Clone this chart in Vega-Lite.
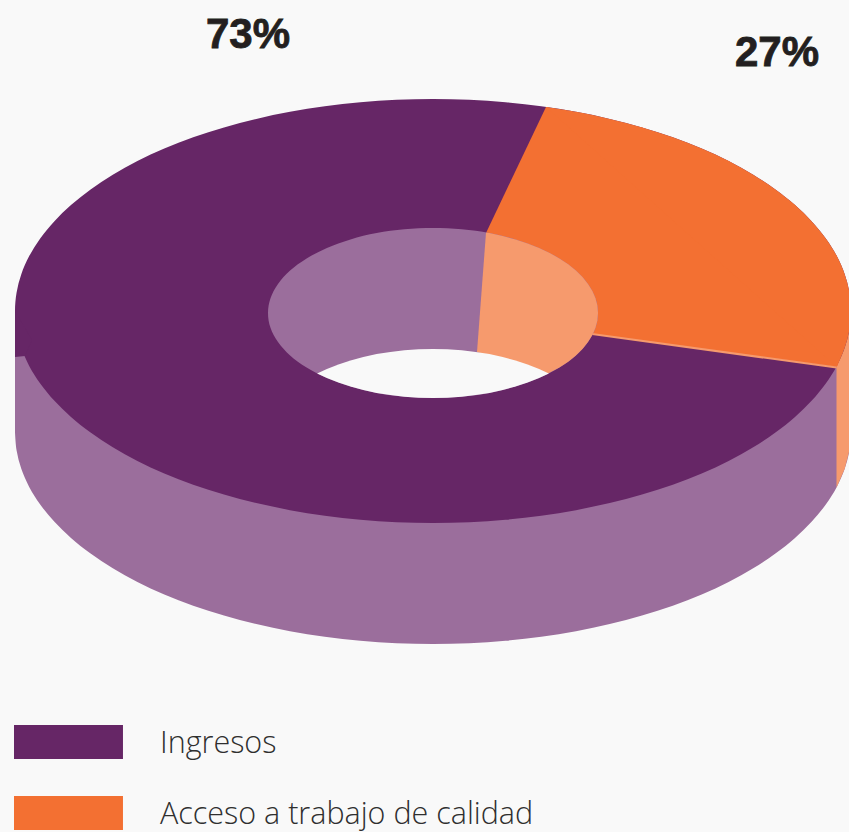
{"$schema":"https://vega.github.io/schema/vega-lite/v6.json","width":849,"height":832,"padding":0,"autosize":{"type":"fit","contains":"padding"},"background":"#f9f9f9","config":{"view":{"stroke":null}},
"datasets":{"parts":[{"s":1,"part":"Ingresos (lado)"},{"s":10,"part":"Ingresos (lado)"},{"s":2,"part":"Acceso (lado)"},{"s":3,"part":"Ingresos"},{"s":4,"part":"Ingresos"},{"s":5,"part":"Acceso a trabajo de calidad"},{"s":11,"part":"Acceso a trabajo de calidad"},{"s":6,"part":"Acceso (lado)"},{"s":7,"part":"Ingresos (lado)"},{"s":8,"part":"Acceso (lado)"},{"s":9,"part":"Fondo"}],
"labels":[{"label":"73%","x":248,"y":34.5},{"label":"27%","x":777,"y":52.5}],
"outline":[
{"s":10,"x":15,"y":311},{"s":10,"x":851,"y":311},{"s":10,"x":851,"y":432.5},{"s":10,"x":15,"y":432.5},
{"s":1,"x":851,"y":432},{"s":1,"x":849.4,"y":450.5},{"s":1,"x":844.7,"y":468.8},{"s":1,"x":836.8,"y":486.9},{"s":1,"x":825.8,"y":504.5},{"s":1,"x":811.8,"y":521.6},{"s":1,"x":795,"y":538},{"s":1,"x":775.4,"y":553.6},{"s":1,"x":753.2,"y":568.3},{"s":1,"x":728.6,"y":581.9},{"s":1,"x":701.7,"y":594.4},{"s":1,"x":672.8,"y":605.7},{"s":1,"x":642,"y":615.6},{"s":1,"x":609.7,"y":624.1},{"s":1,"x":576,"y":631.2},{"s":1,"x":541.2,"y":636.8},{"s":1,"x":505.6,"y":640.8},{"s":1,"x":469.4,"y":643.2},{"s":1,"x":433,"y":644},{"s":1,"x":396.6,"y":643.2},{"s":1,"x":360.4,"y":640.8},{"s":1,"x":324.8,"y":636.8},{"s":1,"x":290,"y":631.2},{"s":1,"x":256.3,"y":624.1},{"s":1,"x":224,"y":615.6},{"s":1,"x":193.2,"y":605.7},{"s":1,"x":164.3,"y":594.4},{"s":1,"x":137.4,"y":581.9},{"s":1,"x":112.8,"y":568.3},{"s":1,"x":90.6,"y":553.6},{"s":1,"x":71,"y":538},{"s":1,"x":54.2,"y":521.6},{"s":1,"x":40.2,"y":504.5},{"s":1,"x":29.2,"y":486.9},{"s":1,"x":21.3,"y":468.8},{"s":1,"x":16.6,"y":450.5},{"s":1,"x":15,"y":432},
{"s":2,"x":836.5,"y":300},{"s":2,"x":851,"y":300},{"s":2,"x":851,"y":432},{"s":2,"x":849.4,"y":450.5},{"s":2,"x":844.7,"y":468.8},{"s":2,"x":836.8,"y":486.9},{"s":2,"x":836.5,"y":488},
{"s":3,"x":433,"y":99},{"s":3,"x":469.4,"y":99.8},{"s":3,"x":505.6,"y":102.2},{"s":3,"x":541.2,"y":106.2},{"s":3,"x":576,"y":111.8},{"s":3,"x":609.7,"y":118.9},{"s":3,"x":642,"y":127.4},{"s":3,"x":672.8,"y":137.3},{"s":3,"x":701.7,"y":148.6},{"s":3,"x":728.6,"y":161.1},{"s":3,"x":753.2,"y":174.7},{"s":3,"x":775.4,"y":189.4},{"s":3,"x":795,"y":205},{"s":3,"x":811.8,"y":221.4},{"s":3,"x":825.8,"y":238.5},{"s":3,"x":836.8,"y":256.1},{"s":3,"x":844.7,"y":274.2},{"s":3,"x":849.4,"y":292.5},{"s":3,"x":851,"y":311},{"s":3,"x":849.4,"y":329.5},{"s":3,"x":844.7,"y":347.8},{"s":3,"x":836.8,"y":365.9},{"s":3,"x":825.8,"y":383.5},{"s":3,"x":811.8,"y":400.6},{"s":3,"x":795,"y":417},{"s":3,"x":775.4,"y":432.6},{"s":3,"x":753.2,"y":447.3},{"s":3,"x":728.6,"y":460.9},{"s":3,"x":701.7,"y":473.4},{"s":3,"x":672.8,"y":484.7},{"s":3,"x":642,"y":494.6},{"s":3,"x":609.7,"y":503.1},{"s":3,"x":576,"y":510.2},{"s":3,"x":541.2,"y":515.8},{"s":3,"x":505.6,"y":519.8},{"s":3,"x":469.4,"y":522.2},{"s":3,"x":433,"y":523},{"s":3,"x":396.6,"y":522.2},{"s":3,"x":360.4,"y":519.8},{"s":3,"x":324.8,"y":515.8},{"s":3,"x":290,"y":510.2},{"s":3,"x":256.3,"y":503.1},{"s":3,"x":224,"y":494.6},{"s":3,"x":193.2,"y":484.7},{"s":3,"x":164.3,"y":473.4},{"s":3,"x":137.4,"y":460.9},{"s":3,"x":112.8,"y":447.3},{"s":3,"x":90.6,"y":432.6},{"s":3,"x":71,"y":417},{"s":3,"x":54.2,"y":400.6},{"s":3,"x":40.2,"y":383.5},{"s":3,"x":29.2,"y":365.9},{"s":3,"x":21.3,"y":347.8},{"s":3,"x":16.6,"y":329.5},{"s":3,"x":15,"y":311},{"s":3,"x":16.6,"y":292.5},{"s":3,"x":21.3,"y":274.2},{"s":3,"x":29.2,"y":256.1},{"s":3,"x":40.2,"y":238.5},{"s":3,"x":54.2,"y":221.4},{"s":3,"x":71,"y":205},{"s":3,"x":90.6,"y":189.4},{"s":3,"x":112.8,"y":174.7},{"s":3,"x":137.4,"y":161.1},{"s":3,"x":164.3,"y":148.6},{"s":3,"x":193.2,"y":137.3},{"s":3,"x":224,"y":127.4},{"s":3,"x":256.3,"y":118.9},{"s":3,"x":290,"y":111.8},{"s":3,"x":324.8,"y":106.2},{"s":3,"x":360.4,"y":102.2},{"s":3,"x":396.6,"y":99.8},
{"s":4,"x":15,"y":311},{"s":4,"x":15,"y":357},{"s":4,"x":25,"y":356},{"s":4,"x":32,"y":340},
{"s":5,"x":546,"y":107},{"s":5,"x":576,"y":111.8},{"s":5,"x":609.7,"y":118.9},{"s":5,"x":642,"y":127.4},{"s":5,"x":672.8,"y":137.3},{"s":5,"x":701.7,"y":148.6},{"s":5,"x":728.6,"y":161.1},{"s":5,"x":753.2,"y":174.7},{"s":5,"x":775.4,"y":189.4},{"s":5,"x":795,"y":205},{"s":5,"x":811.8,"y":221.4},{"s":5,"x":825.8,"y":238.5},{"s":5,"x":836.8,"y":256.1},{"s":5,"x":844.7,"y":274.2},{"s":5,"x":849.4,"y":292.5},{"s":5,"x":851,"y":311},{"s":5,"x":849.4,"y":329.5},{"s":5,"x":844.7,"y":347.8},{"s":5,"x":836.8,"y":367},
{"s":11,"x":486,"y":233},{"s":11,"x":546,"y":107},{"s":11,"x":642,"y":127.4},{"s":11,"x":728.6,"y":161.1},{"s":11,"x":795,"y":205},{"s":11,"x":836.8,"y":256.1},{"s":11,"x":849.4,"y":329.5},{"s":11,"x":836.8,"y":367},{"s":11,"x":592,"y":334},
{"s":6,"x":592,"y":333},{"s":6,"x":836.8,"y":366.6},{"s":6,"x":836.5,"y":368.6},{"s":6,"x":592,"y":335},
{"s":7,"x":433,"y":228},{"s":7,"x":461.7,"y":229.3},{"s":7,"x":489.4,"y":233.1},{"s":7,"x":515.5,"y":239.4},{"s":7,"x":539.1,"y":247.9},{"s":7,"x":559.4,"y":258.4},{"s":7,"x":575.9,"y":270.5},{"s":7,"x":588,"y":283.9},{"s":7,"x":595.5,"y":298.2},{"s":7,"x":598,"y":313},{"s":7,"x":595.5,"y":327.8},{"s":7,"x":588,"y":342.1},{"s":7,"x":575.9,"y":355.5},{"s":7,"x":559.4,"y":367.6},{"s":7,"x":539.1,"y":378.1},{"s":7,"x":515.5,"y":386.6},{"s":7,"x":489.4,"y":392.9},{"s":7,"x":461.7,"y":396.7},{"s":7,"x":433,"y":398},{"s":7,"x":404.3,"y":396.7},{"s":7,"x":376.6,"y":392.9},{"s":7,"x":350.5,"y":386.6},{"s":7,"x":326.9,"y":378.1},{"s":7,"x":306.6,"y":367.6},{"s":7,"x":290.1,"y":355.5},{"s":7,"x":278,"y":342.1},{"s":7,"x":270.5,"y":327.8},{"s":7,"x":268,"y":313},{"s":7,"x":270.5,"y":298.2},{"s":7,"x":278,"y":283.9},{"s":7,"x":290.1,"y":270.5},{"s":7,"x":306.6,"y":258.4},{"s":7,"x":326.9,"y":247.9},{"s":7,"x":350.5,"y":239.4},{"s":7,"x":376.6,"y":233.1},{"s":7,"x":404.3,"y":229.3},
{"s":8,"x":486,"y":232.7},{"s":8,"x":489.4,"y":233.1},{"s":8,"x":502.7,"y":236},{"s":8,"x":515.5,"y":239.4},{"s":8,"x":527.6,"y":243.4},{"s":8,"x":539.1,"y":247.9},{"s":8,"x":549.7,"y":252.9},{"s":8,"x":559.4,"y":258.4},{"s":8,"x":568.2,"y":264.2},{"s":8,"x":575.9,"y":270.5},{"s":8,"x":582.5,"y":277.1},{"s":8,"x":588,"y":283.9},{"s":8,"x":592.4,"y":291},{"s":8,"x":595.5,"y":298.2},{"s":8,"x":597.4,"y":305.6},{"s":8,"x":598,"y":313},{"s":8,"x":597.4,"y":320.4},{"s":8,"x":595.5,"y":327.8},{"s":8,"x":592.4,"y":335},{"s":8,"x":588,"y":342.1},{"s":8,"x":582.5,"y":348.9},{"s":8,"x":575.9,"y":355.5},{"s":8,"x":568.2,"y":361.8},{"s":8,"x":559.4,"y":367.6},{"s":8,"x":547,"y":374},{"s":8,"x":477,"y":352},
{"s":9,"x":317.1,"y":373.5},{"s":9,"x":326.9,"y":368.9},{"s":9,"x":338.4,"y":364.4},{"s":9,"x":350.5,"y":360.4},{"s":9,"x":363.3,"y":357},{"s":9,"x":376.6,"y":354.1},{"s":9,"x":390.3,"y":351.9},{"s":9,"x":404.3,"y":350.3},{"s":9,"x":418.6,"y":349.3},{"s":9,"x":433,"y":349},{"s":9,"x":447.4,"y":349.3},{"s":9,"x":461.7,"y":350.3},{"s":9,"x":475.7,"y":351.9},{"s":9,"x":489.4,"y":354.1},{"s":9,"x":502.7,"y":357},{"s":9,"x":515.5,"y":360.4},{"s":9,"x":527.6,"y":364.4},{"s":9,"x":539.1,"y":368.9},{"s":9,"x":548.9,"y":373.5},{"s":9,"x":539.1,"y":378.1},{"s":9,"x":527.6,"y":382.6},{"s":9,"x":515.5,"y":386.6},{"s":9,"x":502.7,"y":390},{"s":9,"x":489.4,"y":392.9},{"s":9,"x":475.7,"y":395.1},{"s":9,"x":461.7,"y":396.7},{"s":9,"x":447.4,"y":397.7},{"s":9,"x":433,"y":398},{"s":9,"x":418.6,"y":397.7},{"s":9,"x":404.3,"y":396.7},{"s":9,"x":390.3,"y":395.1},{"s":9,"x":376.6,"y":392.9},{"s":9,"x":363.3,"y":390},{"s":9,"x":350.5,"y":386.6},{"s":9,"x":338.4,"y":382.6},{"s":9,"x":326.9,"y":378.1}
]},
"encoding":{"x":{"field":"x","type":"quantitative","scale":{"domain":[0,849],"nice":false,"zero":false},"axis":null},"y":{"field":"y","type":"quantitative","scale":{"domain":[832,0],"nice":false,"zero":false},"axis":null}},
"layer":[
{"data":{"name":"outline"},"transform":[{"lookup":"s","from":{"data":{"name":"parts"},"key":"s","fields":["part"]}}],
"encoding":{"detail":{"field":"s"},"order":{"value":null},
"fill":{"field":"part","type":"nominal","scale":{"domain":["Ingresos","Acceso a trabajo de calidad","Ingresos (lado)","Acceso (lado)","Fondo"],"range":["#662666","#f37032","#9b6e9c","#f69a6d","#f9f9f9"]},
"legend":{"title":null,"values":["Ingresos","Acceso a trabajo de calidad"],"orient":"none","legendX":14,"legendY":725,"padding":0,"symbolType":"M-1,-1H5.41V1H-1Z","symbolSize":1156,"symbolStrokeWidth":0,"symbolOpacity":1,"labelOffset":112,"rowPadding":36,"labelFontSize":30.5,"labelFont":"Open Sans","labelFontWeight":300,"labelColor":"#2f2f2f","labelLimit":500,"encode":{"labels":{"update":{"dy":{"value":2}}}}}}},
"layer":[
{"transform":[{"filter":"datum.s==10"}],"mark":{"type":"line","filled":true,"strokeWidth":0,"clip":true}},
{"transform":[{"filter":"datum.s==1"}],"mark":{"type":"line","filled":true,"strokeWidth":0,"clip":true,"interpolate":"cardinal"}},
{"transform":[{"filter":"datum.s==2"}],"mark":{"type":"line","filled":true,"strokeWidth":0,"clip":true}},
{"transform":[{"filter":"datum.s==3"}],"mark":{"type":"line","filled":true,"strokeWidth":0,"clip":true,"interpolate":"cardinal-closed"}},
{"transform":[{"filter":"datum.s==4||datum.s==11"}],"mark":{"type":"line","filled":true,"strokeWidth":0,"clip":true}},
{"transform":[{"filter":"datum.s==5"}],"mark":{"type":"line","filled":true,"strokeWidth":0,"clip":true,"interpolate":"cardinal"}},
{"transform":[{"filter":"datum.s==6"}],"mark":{"type":"line","filled":true,"strokeWidth":0,"clip":true}},
{"transform":[{"filter":"datum.s==7"}],"mark":{"type":"line","filled":true,"strokeWidth":0,"clip":true,"interpolate":"cardinal-closed"}},
{"transform":[{"filter":"datum.s==8||datum.s==9"}],"mark":{"type":"line","filled":true,"strokeWidth":0,"clip":true}}
]},
{"data":{"name":"labels"},"mark":{"type":"text","font":"Liberation Sans","fontWeight":"bold","fontSize":42,"color":"#231f20","stroke":"#231f20","strokeWidth":0.8,"align":"center","baseline":"middle"},
"encoding":{"text":{"field":"label"}}}
]}
